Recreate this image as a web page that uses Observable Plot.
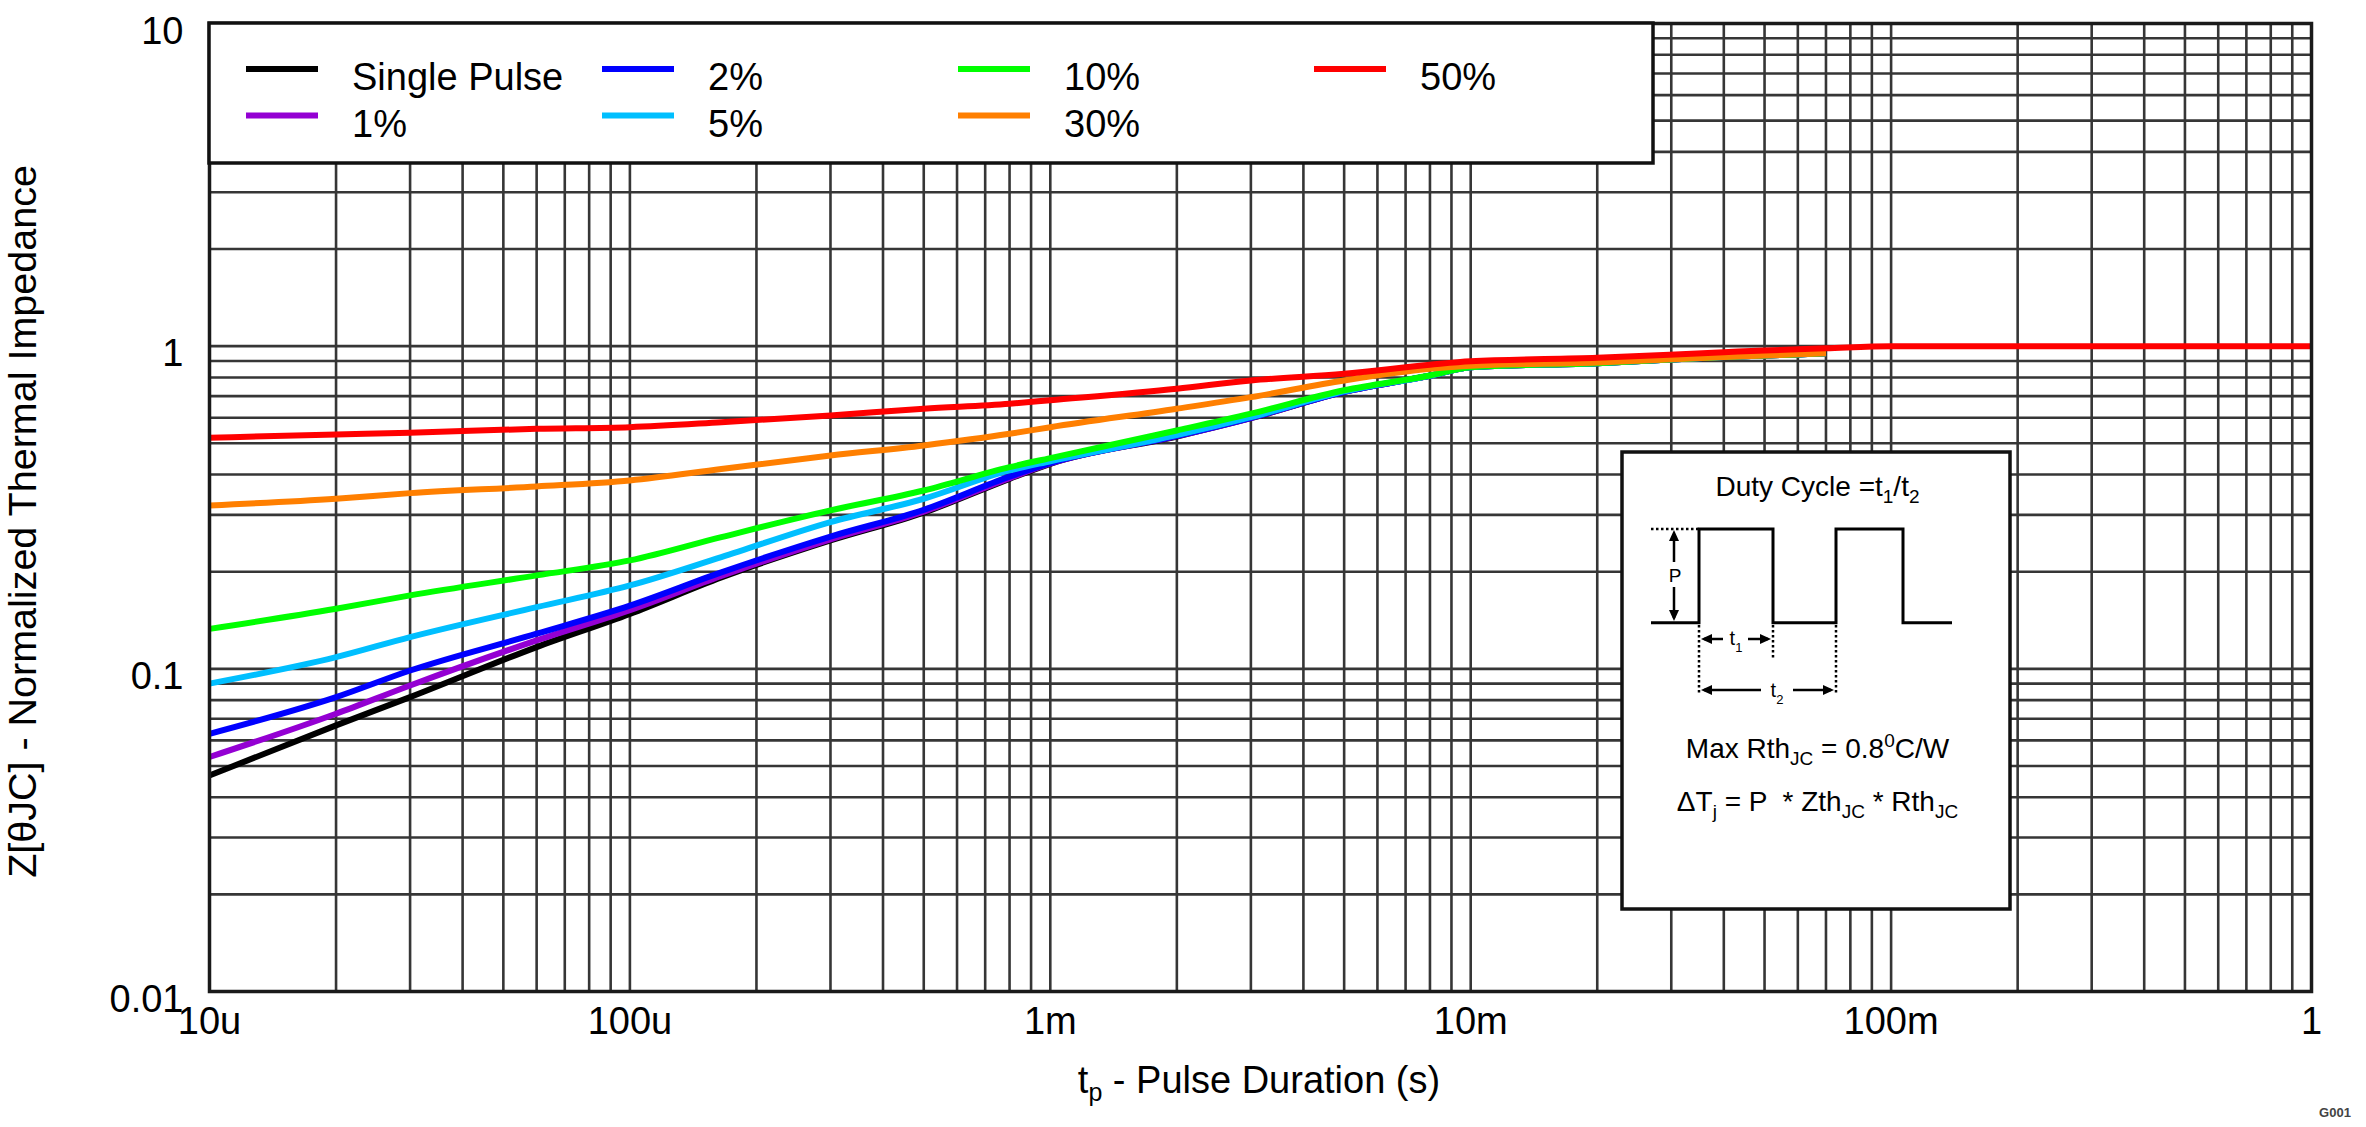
<!DOCTYPE html>
<html><head><meta charset="utf-8">
<script src="https://cdn.jsdelivr.net/npm/d3@7"></script>
<script src="https://cdn.jsdelivr.net/npm/@observablehq/plot@0.6"></script>
<style>
html,body{margin:0;padding:0;background:#fff;}
#chart{width:2366px;height:1127px;}
</style></head><body><div id="chart"></div>
<script>
// ---- data ----
const tp = [1e-5, 2e-5, 3e-5, 6e-5, 1e-4, 1.65e-4, 3e-4, 5e-4, 8e-4, 1e-3, 2e-3, 3e-3, 5e-3, 8e-3, 1e-2, 2e-2, 4e-2, 5e-2, 7e-2, 1e-1, 1];
const singlePulse = [0.0467, 0.0668, 0.0817, 0.1168, 0.148, 0.192, 0.25, 0.305, 0.388, 0.432, 0.525, 0.598, 0.722, 0.81, 0.861, 0.886, 0.925, 0.935, 0.95, null, null];
const duty1  = [0.0533, 0.0726, 0.0888, 0.1225, 0.152, 0.194, 0.252, 0.307, 0.39, 0.433, 0.526, 0.599, 0.722, 0.81, 0.861, 0.886, 0.925, 0.935, 0.95, null, null];
const duty2  = [0.0629, 0.0817, 0.0988, 0.1285, 0.157, 0.199, 0.257, 0.311, 0.394, 0.434, 0.527, 0.6, 0.722, 0.81, 0.861, 0.886, 0.925, 0.935, 0.95, null, null];
const duty5  = [0.090, 0.1087, 0.1254, 0.1553, 0.1813, 0.222, 0.2849, 0.3366, 0.412, 0.44, 0.53, 0.603, 0.724, 0.81, 0.861, 0.886, 0.925, 0.935, 0.95, null, null];
const duty10 = [0.133, 0.1535, 0.1689, 0.1948, 0.2168, 0.256, 0.3097, 0.357, 0.4217, 0.45, 0.548, 0.618, 0.73, 0.811, 0.861, 0.886, 0.925, 0.935, 0.95, null, null];
const duty30 = [0.3208, 0.3366, 0.3504, 0.3674, 0.3835, 0.416, 0.4584, 0.4925, 0.535, 0.561, 0.64, 0.695, 0.783, 0.851, 0.87, 0.89, 0.926, 0.936, 0.95, null, null];
const duty50 = [0.520, 0.5325, 0.539, 0.5546, 0.561, 0.581, 0.61, 0.64, 0.663, 0.68, 0.738, 0.783, 0.821, 0.876, 0.898, 0.92, 0.958, 0.97, 0.985, 1.0, 1.0];

const seriesNames  = ["Single Pulse", "1%", "2%", "5%", "10%", "30%", "50%"];
const seriesColors = ["#000000", "#9400d3", "#0000ff", "#00bfff", "#00ff00", "#ff7f00", "#ff0000"];
const seriesValues = [singlePulse, duty1, duty2, duty5, duty10, duty30, duty50];

const xTickValues = [1e-5, 1e-4, 1e-3, 1e-2, 1e-1, 1];
const xTickLabels = ["10u", "100u", "1m", "10m", "100m", "1"];
const yTickValues = [0.01, 0.1, 1, 10];
const yTickLabels = ["0.01", "0.1", "1", "10"];

const xTitle = ["t", "p", " - Pulse Duration (s)"];
const yTitle = "Z[\u03B8JC] - Normalized Thermal Impedance";

// ---- chart ----
const FONT = "'Liberation Sans', Arial, Helvetica, sans-serif";
const FS = 38;
const GRID = "#363636";

const decadeGrid = (lo, hi) => {
  const out = [];
  for (let e = lo; e < hi; e++) for (let k = 1; k <= 9; k++) out.push(k * Math.pow(10, e));
  out.push(Math.pow(10, hi));
  return out;
};
const xGrid = decadeGrid(-5, 0);
const yGrid = decadeGrid(-2, 1);

const rowsFor = (vals) => tp.map((t, j) => ({t, z: vals[j]})).filter(d => d.z != null);

const svg = Plot.plot({
  width: 2366, height: 1127,
  marginLeft: 209, marginRight: 55, marginTop: 23, marginBottom: 136,
  x: {type: "log", domain: [1e-5, 1], axis: null},
  y: {type: "log", domain: [0.01, 10], axis: null},
  style: {fontFamily: FONT, background: "#fff", color: "#000"},
  marks: [
    Plot.gridX(xGrid, {stroke: GRID, strokeOpacity: 1, strokeWidth: 2.6}),
    Plot.gridY(yGrid, {stroke: GRID, strokeOpacity: 1, strokeWidth: 2.6}),
    ...seriesValues.map((vals, i) => Plot.line(rowsFor(vals), {x: "t", y: "z", curve: "monotone-x", stroke: seriesColors[i], strokeWidth: 6, strokeLinejoin: "round", strokeLinecap: "butt"})),
    Plot.frame({stroke: "#1a1a1a", strokeWidth: 3.5}),
    Plot.text(xTickValues, {x: d => d, text: (d, i) => xTickLabels[i], frameAnchor: "bottom", dy: 42, fontSize: FS, fill: "#000"}),
    Plot.text(yTickValues, {y: d => d, text: (d, i) => yTickLabels[i], frameAnchor: "left", textAnchor: "end", dx: -26, dy: 8, fontSize: FS, fill: "#000"}),
    Plot.text([yTitle], {frameAnchor: "left", textAnchor: "middle", rotate: -90, dx: -186, dy: 14, fontSize: 39.5, fill: "#000"})
  ]
});
document.getElementById("chart").appendChild(svg);

const root = d3.select(svg);

// x-axis title with subscript
const xt = root.append("text").attr("x", 1259).attr("y", 1093).attr("text-anchor", "middle")
  .attr("font-family", FONT).attr("font-size", FS).attr("fill", "#000");
xt.append("tspan").text(xTitle[0]);
xt.append("tspan").attr("dy", 8).attr("font-size", 25).text(xTitle[1]);
xt.append("tspan").attr("dy", -8).text(xTitle[2]);

// G001 tag
root.append("text").attr("x", 2335).attr("y", 1117).attr("text-anchor", "middle")
  .attr("font-family", FONT).attr("font-size", 13).attr("font-weight", "bold").attr("fill", "#444").text("G001");

// ---- legend (inside the plot, top-left) ----
const leg = root.append("g");
leg.append("rect").attr("x", 209).attr("y", 23).attr("width", 1653 - 209).attr("height", 163 - 23)
  .attr("fill", "#fff").attr("stroke", "#111").attr("stroke-width", 3.5);
seriesNames.forEach((name, i) => {
  const col = Math.floor(i / 2), row = i % 2;
  const x0 = 246 + col * 356, yS = 69 + row * 46.5;
  leg.append("line").attr("x1", x0).attr("x2", x0 + 72).attr("y1", yS).attr("y2", yS)
    .attr("stroke", seriesColors[i]).attr("stroke-width", 6);
  leg.append("text").attr("x", x0 + 106).attr("y", yS + 21).attr("text-anchor", "start")
    .attr("font-family", FONT).attr("font-size", FS).attr("fill", "#000").text(name);
});

// ---- duty-cycle inset ----
const ins = root.append("g").attr("transform", "translate(1622,452)");
ins.append("rect").attr("width", 388).attr("height", 457).attr("fill", "#fff").attr("stroke", "#111").attr("stroke-width", 3.5);

function rich(g, x, y, parts, fs, sfs) {
  const t = g.append("text").attr("x", x).attr("y", y).attr("text-anchor", "middle")
    .attr("font-family", FONT).attr("font-size", fs).attr("fill", "#000");
  let shift = 0;
  parts.forEach(p => {
    const target = p.sub ? 7 : p.sup ? -11 : 0;
    const sp = t.append("tspan").attr("dy", target - shift).text(p.t);
    if (p.sub || p.sup) sp.attr("font-size", sfs);
    shift = target;
  });
  return t;
}
rich(ins, 195.5, 44, [{t: "Duty Cycle =t"}, {t: "1", sub: true}, {t: "/t"}, {t: "2", sub: true}], 28, 19);
rich(ins, 195.5, 306, [{t: "Max Rth"}, {t: "JC", sub: true}, {t: " = 0.8"}, {t: "0", sup: true}, {t: "C/W"}], 28, 19);
rich(ins, 195.5, 359, [{t: "\u0394T"}, {t: "j", sub: true}, {t: " = P  * Zth"}, {t: "JC", sub: true}, {t: " * Rth"}, {t: "JC", sub: true}], 28, 19);

const wave = [[29,170.7],[77,170.7],[77,77],[151,77],[151,170.7],[214,170.7],[214,77],[281,77],[281,170.7],[330,170.7]];
ins.append("path").attr("d", d3.line()(wave)).attr("fill", "none").attr("stroke", "#000").attr("stroke-width", 3);
const dotted = (x1, y1, x2, y2) => ins.append("line").attr("x1", x1).attr("y1", y1).attr("x2", x2).attr("y2", y2)
  .attr("stroke", "#000").attr("stroke-width", 2.5).attr("stroke-dasharray", "2.5,2.5");
dotted(29, 77, 77, 77);
dotted(77, 173, 77, 243);
dotted(151, 173, 151, 208);
dotted(214, 173, 214, 243);
const seg = (x1, y1, x2, y2) => ins.append("line").attr("x1", x1).attr("y1", y1).attr("x2", x2).attr("y2", y2)
  .attr("stroke", "#000").attr("stroke-width", 2.5);
const head = (x, y, dir) => {
  const L = 11, W = 5;
  let pts;
  if (dir === "up") pts = [[x, y], [x - W, y + L], [x + W, y + L]];
  if (dir === "down") pts = [[x, y], [x - W, y - L], [x + W, y - L]];
  if (dir === "left") pts = [[x, y], [x + L, y - W], [x + L, y + W]];
  if (dir === "right") pts = [[x, y], [x - L, y - W], [x - L, y + W]];
  ins.append("polygon").attr("points", pts.map(p => p.join(",")).join(" ")).attr("fill", "#000");
};
// P arrow
seg(52, 82, 52, 110); seg(52, 135, 52, 166);
head(52, 78, "up"); head(52, 169, "down");
ins.append("text").attr("x", 53).attr("y", 130).attr("text-anchor", "middle").attr("font-family", FONT).attr("font-size", 19).attr("fill", "#000").text("P");
// t1 arrow
seg(82, 187, 101, 187); seg(126, 187, 146, 187);
head(79, 187, "left"); head(149, 187, "right");
rich(ins, 114, 193, [{t: "t"}, {t: "1", sub: true}], 20, 13);
// t2 arrow
seg(82, 238, 139, 238); seg(171, 238, 209, 238);
head(79, 238, "left"); head(212, 238, "right");
rich(ins, 155, 245, [{t: "t"}, {t: "2", sub: true}], 20, 13);
</script></body></html>
